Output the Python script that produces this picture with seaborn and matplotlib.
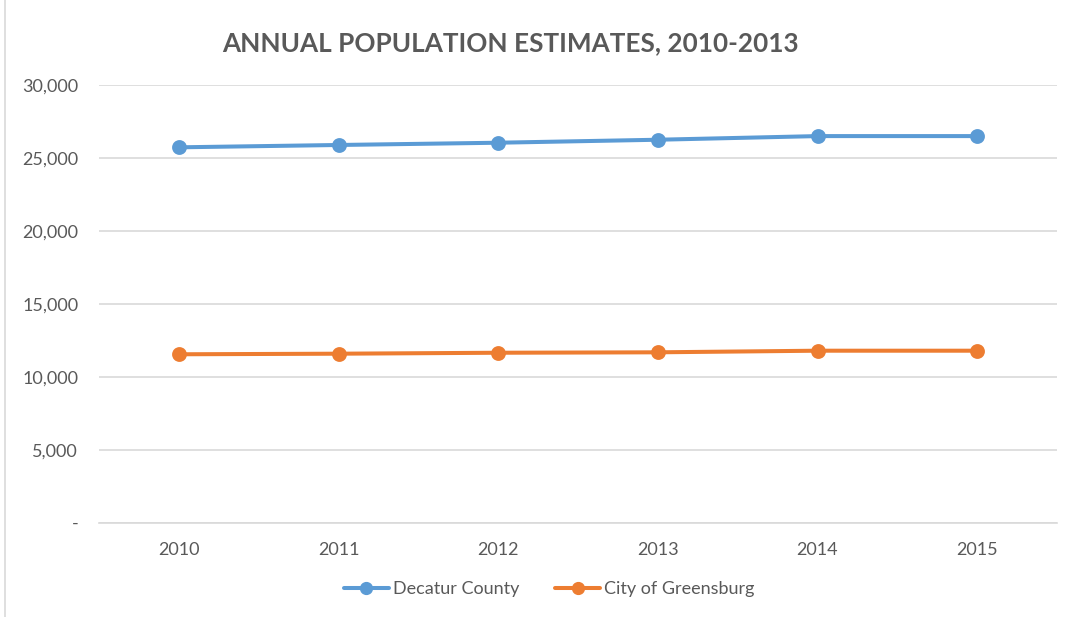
import matplotlib
matplotlib.use("Agg")
import matplotlib.pyplot as plt
import matplotlib.ticker as mticker
from matplotlib.lines import Line2D
import pandas as pd
import seaborn as sns

years = ["2010", "2011", "2012", "2013", "2014", "2015"]
decatur = [25730, 25890, 26045, 26250, 26500, 26500]
greensburg = [11545, 11585, 11650, 11680, 11790, 11790]
series_names = ["Decatur County", "City of Greensburg"]
colors = ["#5B9BD5", "#ED7D31"]

df = pd.DataFrame({
    "year": years * 2,
    "population": decatur + greensburg,
    "series": [series_names[0]] * len(years) + [series_names[1]] * len(years),
})

sns.set_theme(style="white")
plt.rcParams["font.family"] = ["Lato", "DejaVu Sans"]
text_gray = "#595959"
grid_gray = "#D9D9D9"

fig = plt.figure(figsize=(10.68, 6.17), dpi=100)
ax = fig.add_axes([0.0927, 0.1528, 0.8970, 0.7094])

sns.pointplot(data=df, x="year", y="population", hue="series",
              order=years, hue_order=series_names, palette=colors,
              markers="o", errorbar=None, linewidth=2.9, markersize=8.5,
              legend=False, ax=ax)

ax.set_ylim(0, 30000)
ax.set_xlim(-0.5, len(years) - 0.5)
ax.yaxis.set_major_locator(mticker.MultipleLocator(5000))
ax.yaxis.set_major_formatter(mticker.FuncFormatter(
    lambda v, _: "-" if v == 0 else f"{int(v):,}"))
ax.grid(axis="y", color=grid_gray, linewidth=1.2)
ax.set_axisbelow(True)
for side in ["top", "left", "right"]:
    ax.spines[side].set_visible(False)
ax.spines["bottom"].set_color(grid_gray)
ax.spines["bottom"].set_linewidth(1.2)
ax.tick_params(axis="both", length=0, labelsize=13, colors=text_gray)
ax.tick_params(axis="y", pad=15)
ax.tick_params(axis="x", pad=14)
ax.set_xlabel("")
ax.set_ylabel("")

fig.text(0.478, 0.93, "ANNUAL POPULATION ESTIMATES, 2010-2013",
         ha="center", va="center", fontsize=18.8, fontweight="bold",
         color=text_gray)

handles = [Line2D([], [], color=c, linewidth=2.9, marker="o", markersize=8.5)
           for c in colors]
leg = fig.legend(handles, series_names, loc="center", bbox_to_anchor=(0.514, 0.045),
                 ncol=2, frameon=False, fontsize=13, handlelength=2.5,
                 handletextpad=0.2, columnspacing=2.0)
for t in leg.get_texts():
    t.set_color(text_gray)

# thin frame edge on the left like the original chart border
fig.add_artist(Line2D([0.005, 0.005], [0.0, 1.0], color=grid_gray, linewidth=1.2,
                      transform=fig.transFigure))

fig.savefig("out.png", dpi=100, facecolor="white")
